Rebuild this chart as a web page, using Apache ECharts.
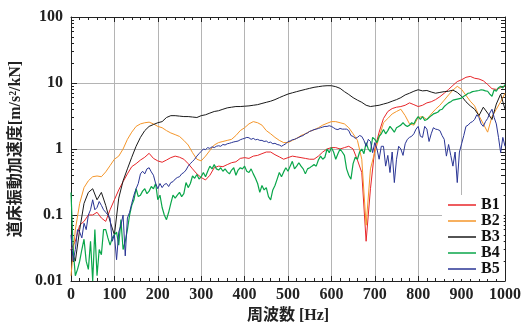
<!DOCTYPE html>
<html><head><meta charset="utf-8">
<script src="https://cdn.jsdelivr.net/npm/echarts@6/dist/echarts.min.js"></script>
<style>html,body{margin:0;padding:0;background:#fff}#c{width:524px;height:329px}</style>
</head><body><div id="c"></div>
<script>
// frequency grids [Hz]
const freq10 = Array.from({length: 101}, (_, i) => i * 10);
const freq5 = Array.from({length: 201}, (_, i) => i * 5);
const names = ['B1', 'B2', 'B3', 'B4', 'B5'];
const xTicks = [0, 100, 200, 300, 400, 500, 600, 700, 800, 900, 1000];
const yTicks = [0.01, 0.1, 1, 10, 100];
const yMinor = [0.02,0.03,0.04,0.05,0.06,0.07,0.08,0.09,0.2,0.3,0.4,0.5,0.6,0.7,0.8,0.9,2,3,4,5,6,7,8,9,20,30,40,50,60,70,80,90];

// 10 Hz step
const B1 = [0.03,0.04,0.07,0.08,0.1,0.1,0.11,0.09,0.08,0.12,
  0.17,0.24,0.32,0.42,0.54,0.6,0.68,0.75,0.86,0.72,
  0.66,0.63,0.68,0.74,0.78,0.75,0.7,0.6,0.5,0.42,
  0.37,0.34,0.4,0.52,0.55,0.54,0.58,0.62,0.64,0.72,
  0.74,0.72,0.78,0.8,0.85,0.9,0.9,0.82,0.76,0.7,
  0.74,0.78,0.76,0.74,0.72,0.7,0.7,0.78,0.9,1.0,
  1.05,1.05,1.0,1.05,1.1,1.0,0.68,0.44,0.04,0.25,
  1.0,1.8,2.9,3.7,4.1,4.3,4.4,4.6,5.0,4.7,
  4.4,4.6,5.0,5.2,5.6,6.2,7.0,8.0,9.2,10.5,
  11.2,12.2,12.6,11.8,11.5,10.8,9.5,8.2,8.0,8.5,
  9.0];
// 10 Hz step
const B2 = [0.012,0.06,0.15,0.26,0.33,0.38,0.39,0.38,0.45,0.56,
  0.7,0.78,1.0,1.4,1.8,2.2,2.4,2.5,2.55,2.4,
  2.2,2.1,1.9,1.75,1.65,1.55,1.35,1.15,0.88,0.7,
  0.66,0.78,0.95,1.15,1.25,1.3,1.35,1.4,1.6,1.9,
  2.1,2.4,2.6,2.5,2.3,1.9,1.7,1.5,1.35,1.25,
  1.25,1.35,1.45,1.6,1.7,1.85,1.95,2.1,2.3,2.45,
  2.6,2.6,2.5,2.4,2.1,1.7,1.35,0.7,0.07,0.5,
  0.9,1.5,2.5,2.9,3.4,3.7,4.0,3.2,2.4,2.3,
  3.0,3.1,2.8,3.4,4.0,4.6,5.5,6.6,7.8,8.9,
  8.0,6.5,5.3,4.5,3.2,2.4,1.8,3.1,4.0,5.2,
  7.0];
// 10 Hz step
const B3 = [0.03,0.02,0.06,0.15,0.22,0.25,0.17,0.22,0.14,0.08,
  0.05,0.18,0.33,0.5,0.75,1.1,1.5,1.9,2.2,2.35,
  2.5,2.6,3.0,3.2,3.2,3.15,3.1,3.1,3.05,3.0,
  3.2,3.3,3.5,3.7,3.8,4.0,4.2,4.3,4.4,4.4,
  4.45,4.5,4.6,4.7,4.9,5.1,5.3,5.6,6.0,6.4,
  6.8,7.1,7.4,7.7,8.0,8.3,8.6,8.8,9.0,9.1,
  9.1,8.8,8.3,7.4,6.7,6.0,5.5,5.1,4.6,4.4,
  4.5,4.6,4.8,5.0,5.3,5.6,6.0,6.6,7.0,7.5,
  7.9,7.6,7.7,7.3,7.0,7.2,7.4,7.5,7.8,7.2,
  6.3,5.2,4.5,4.0,3.2,4.3,3.5,2.8,4.8,6.8,
  4.0];
// 5 Hz step
const B4 = [0.22,0.03,0.012,0.015,0.02,0.03,0.043,0.02,0.015,0.04,0.01,0.06,0.012,0.03,0.025,0.06,0.06,0.045,0.035,0.045,
  0.05,0.055,0.035,0.085,0.03,0.04,0.06,0.1,0.14,0.17,0.25,0.19,0.2,0.23,0.25,0.21,0.23,0.27,0.25,0.3,
  0.17,0.2,0.13,0.1,0.085,0.11,0.15,0.2,0.18,0.2,0.22,0.19,0.21,0.31,0.26,0.3,0.39,0.36,0.41,0.35,
  0.38,0.44,0.38,0.46,0.55,0.5,0.58,0.5,0.48,0.52,0.46,0.5,0.45,0.42,0.48,0.52,0.4,0.48,0.52,0.5,
  0.55,0.46,0.44,0.5,0.42,0.36,0.3,0.22,0.28,0.24,0.26,0.19,0.17,0.24,0.28,0.35,0.44,0.38,0.45,0.52,
  0.46,0.55,0.65,0.5,0.55,0.62,0.55,0.5,0.42,0.5,0.52,0.55,0.58,0.55,0.68,0.78,0.7,0.75,1.0,0.88,
  1.05,0.9,0.7,0.85,1.0,0.9,0.8,0.5,0.4,0.35,0.6,0.75,0.7,0.9,1.0,0.85,1.25,1.0,0.9,1.5,
  1.4,1.25,1.56,1.7,1.97,1.7,1.9,2.2,2.0,1.8,2.1,2.2,2.3,2.5,2.3,2.2,2.3,2.5,2.4,2.8,
  3.1,2.8,3.1,2.7,2.8,3.0,3.2,3.4,3.5,3.6,3.9,4.0,4.4,4.7,5.0,5.2,5.5,5.6,5.7,5.8,
  5.9,6.3,6.6,7.0,7.1,7.4,7.5,7.6,7.7,7.9,7.8,7.6,7.5,6.8,6.3,7.9,7.5,8.5,8.9,8.4,
  9.5];
// 5 Hz step
const B5 = [0.05,0.02,0.03,0.06,0.055,0.045,0.075,0.06,0.1,0.12,0.17,0.12,0.13,0.16,0.14,0.12,0.11,0.1,0.09,0.04,
  0.05,0.021,0.055,0.07,0.1,0.024,0.09,0.11,0.15,0.2,0.25,0.3,0.42,0.46,0.42,0.5,0.52,0.45,0.4,0.3,
  0.25,0.3,0.26,0.29,0.3,0.27,0.31,0.32,0.35,0.37,0.38,0.42,0.44,0.48,0.55,0.6,0.65,0.7,0.78,0.85,
  0.92,1.0,0.98,1.05,1.02,1.08,1.05,1.1,1.12,1.1,1.17,1.15,1.2,1.22,1.25,1.28,1.3,1.32,1.38,1.42,
  1.45,1.5,1.48,1.4,1.45,1.38,1.4,1.35,1.35,1.3,1.32,1.25,1.27,1.2,1.22,1.17,1.15,1.1,1.15,1.2,
  1.3,1.32,1.38,1.4,1.45,1.5,1.56,1.6,1.7,1.75,1.85,1.9,1.97,2.0,2.05,2.1,2.15,2.2,2.2,2.25,
  2.2,2.1,2.0,1.97,2.05,2.0,2.0,2.0,1.9,1.6,1.55,1.45,1.5,1.6,1.55,1.35,1.1,1.4,1.3,0.88,
  1.25,1.0,0.7,1.1,1.1,0.55,0.8,0.44,0.9,0.31,0.7,1.1,1.0,0.8,1.2,1.4,1.5,1.56,1.7,2.0,
  2.2,1.56,1.5,2.2,2.0,1.3,1.7,2.1,2.0,1.97,1.9,1.6,1.4,0.78,1.17,0.8,0.55,0.9,0.31,0.9,
  1.2,1.6,2.2,2.3,2.5,2.6,2.8,3.3,3.0,2.4,2.2,2.6,2.9,3.5,4.0,3.0,2.4,1.5,0.88,1.5,
  1.1];

const seriesValues = [B1, B2, B3, B4, B5];
const seriesFreq = [freq10, freq10, freq10, freq5, freq5];
const colors = ['#e8262a', '#f5962a', '#1a1a1a', '#0aa64a', '#2a3595'];

const serif = "'Liberation Serif','Noto Sans CJK JP',serif";
const axisColor = '#222';
const labelStyle = {fontFamily: serif, fontWeight: 'bold', fontSize: 16, color: '#222'};

const chart = echarts.init(document.getElementById('c'), null, {renderer: 'canvas'});
chart.setOption({
  animation: false,
  backgroundColor: '#fff',
  grid: {left: 71, right: 17, top: 17, bottom: 47},
  legend: {
    orient: 'vertical', left: 442, top: 195,
    padding: [2, 4, 2, 6], backgroundColor: '#fff',
    icon: 'rect', itemWidth: 28, itemHeight: 1.5, itemGap: 0,
    textStyle: {fontFamily: serif, fontWeight: 'bold', fontSize: 16, lineHeight: 15.3, color: '#111'},
    data: names
  },
  xAxis: [
    {
      type: 'value', min: xTicks[0], max: xTicks[xTicks.length - 1], interval: 100, position: 'bottom',
      axisLine: {show: true, onZero: false, lineStyle: {color: axisColor}},
      axisTick: {show: true, inside: true, length: 5, lineStyle: {color: axisColor}},
      minorTick: {show: true, splitNumber: 5, length: 3, lineStyle: {color: axisColor}},
      splitLine: {show: true, lineStyle: {color: '#b4b4b4', width: 1}},
      axisLabel: Object.assign({margin: 6, formatter: v => String(v)}, labelStyle),
      name: '周波数 [Hz]', nameLocation: 'middle', nameGap: 27,
      nameTextStyle: {fontFamily: serif, fontWeight: 'bold', fontSize: 16, color: '#222'}
    },
    {
      type: 'value', min: xTicks[0], max: xTicks[xTicks.length - 1], interval: 100, position: 'top',
      axisLine: {show: true, onZero: false, lineStyle: {color: axisColor}},
      axisTick: {show: true, inside: true, length: 5, lineStyle: {color: axisColor}},
      minorTick: {show: true, splitNumber: 5, length: 3, lineStyle: {color: axisColor}},
      splitLine: {show: false}, axisLabel: {show: false}
    }
  ],
  yAxis: [
    {
      type: 'log', logBase: 10, min: yTicks[0], max: yTicks[yTicks.length - 1], position: 'left',
      axisLine: {show: true, onZero: false, lineStyle: {color: axisColor}},
      axisTick: {show: true, inside: true, length: 6, lineStyle: {color: axisColor}},
      splitLine: {show: true, lineStyle: {color: '#b4b4b4', width: 1}},
      axisLabel: Object.assign({margin: 8, formatter: v => String(v)}, labelStyle),
      name: '道床振動加速度[m/s²/kN]', nameLocation: 'middle', nameGap: 40, nameRotate: 90,
      nameTextStyle: {fontFamily: serif, fontWeight: 'bold', fontSize: 16, color: '#222'}
    },
    {
      type: 'log', logBase: 10, min: yTicks[0], max: yTicks[yTicks.length - 1], position: 'left',
      axisLine: {show: false},
      axisTick: {show: true, inside: true, length: 3, customValues: yMinor, lineStyle: {color: axisColor}},
      splitLine: {show: false}, axisLabel: {show: false}
    },
    {
      type: 'log', logBase: 10, min: yTicks[0], max: yTicks[yTicks.length - 1], position: 'right',
      axisLine: {show: true, onZero: false, lineStyle: {color: axisColor}},
      axisTick: {show: true, inside: true, length: 4, customValues: yTicks.concat(yMinor), lineStyle: {color: axisColor}},
      splitLine: {show: false}, axisLabel: {show: false}
    }
  ],
  series: names.map((n, k) => ({
    name: n, type: 'line', xAxisIndex: 0, yAxisIndex: 0,
    symbol: 'none', showSymbol: false,
    color: colors[k],
    lineStyle: {width: k === 3 ? 1.2 : 1, color: colors[k]},
    data: seriesFreq[k].map((f, i) => [f, seriesValues[k][i]])
  }))
});
</script>
</body></html>
